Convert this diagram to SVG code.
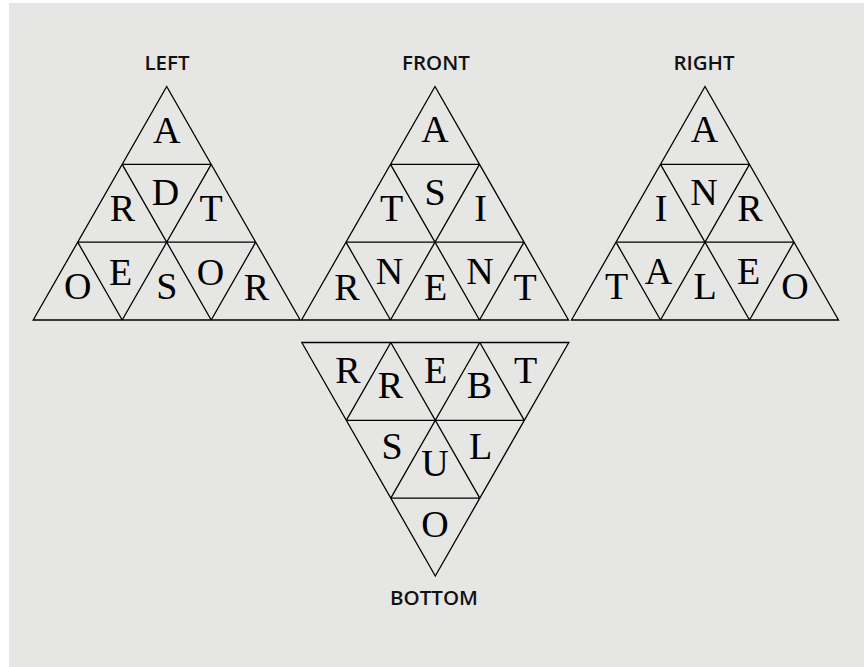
<svg xmlns="http://www.w3.org/2000/svg" xmlns:xlink="http://www.w3.org/1999/xlink" width="864" height="667" viewBox="0 0 864 667">
<style>
.grid{fill:none;stroke:#000;stroke-width:1.3;stroke-linejoin:miter}
.ch{font-family:"Liberation Serif","Times New Roman",serif;font-size:38px;fill:#000;text-anchor:middle}
.lbl{font-family:"Open Sans","Noto Sans",sans-serif;font-size:20.5px;font-weight:600;fill:#111;text-anchor:middle}
</style>
<defs>
<path id="grid" class="grid" d="M0,0 L-133.5,233.5 L133.5,233.5 Z M-44.5,77.83 H44.5 M-89,155.67 H89 M44.5,77.83 L-44.5,233.5 M89,155.67 L44.5,233.5 M-44.5,77.83 L44.5,233.5 M-89,155.67 L-44.5,233.5"/>
</defs>
<rect x="9" y="3" width="855" height="664" fill="#e6e6e4"/>
<g id="left">
<use xlink:href="#grid" href="#grid" transform="translate(166.7,86.5)"/>
<text class="lbl" x="167" y="70">LEFT</text>
<text class="ch" x="166.7" y="142.5">A</text>
<text class="ch" x="122.5" y="220.5">R</text>
<text class="ch" x="165.5" y="205">D</text>
<text class="ch" x="211" y="220.5">T</text>
<text class="ch" x="77.8" y="299">O</text>
<text class="ch" x="120.5" y="284.5">E</text>
<text class="ch" x="166.7" y="299">S</text>
<text class="ch" x="210.5" y="284.5">O</text>
<text class="ch" x="256.5" y="299.5">R</text>
</g>
<g id="front">
<use xlink:href="#grid" href="#grid" transform="translate(435,86.5)"/>
<text class="lbl" x="436" y="69.5">FRONT</text>
<text class="ch" x="435" y="142">A</text>
<text class="ch" x="391.5" y="220.5">T</text>
<text class="ch" x="435" y="205">S</text>
<text class="ch" x="480.5" y="220.5">I</text>
<text class="ch" x="347" y="299.5">R</text>
<text class="ch" x="389.5" y="283.5">N</text>
<text class="ch" x="435.5" y="299.5">E</text>
<text class="ch" x="480" y="283.5">N</text>
<text class="ch" x="525" y="299.5">T</text>
</g>
<g id="right">
<use xlink:href="#grid" href="#grid" transform="translate(705,86.5)"/>
<text class="lbl" x="704" y="70">RIGHT</text>
<text class="ch" x="704.5" y="142">A</text>
<text class="ch" x="661" y="220.5">I</text>
<text class="ch" x="704" y="205">N</text>
<text class="ch" x="750" y="220.5">R</text>
<text class="ch" x="616.5" y="298.5">T</text>
<text class="ch" x="658.5" y="284">A</text>
<text class="ch" x="705" y="299">L</text>
<text class="ch" x="748.5" y="283.5">E</text>
<text class="ch" x="795" y="298.5">O</text>
</g>
<g id="bottom">
<use xlink:href="#grid" href="#grid" transform="translate(435.3,576) scale(1,-1)"/>
<text class="lbl" x="434" y="605">BOTTOM</text>
<text class="ch" x="348" y="383">R</text>
<text class="ch" x="390.5" y="398">R</text>
<text class="ch" x="435.5" y="383">E</text>
<text class="ch" x="479.5" y="398">B</text>
<text class="ch" x="525.5" y="383">T</text>
<text class="ch" x="392" y="459">S</text>
<text class="ch" x="435" y="476">U</text>
<text class="ch" x="480.5" y="459">L</text>
<text class="ch" x="435" y="536.5">O</text>
</g>
</svg>
